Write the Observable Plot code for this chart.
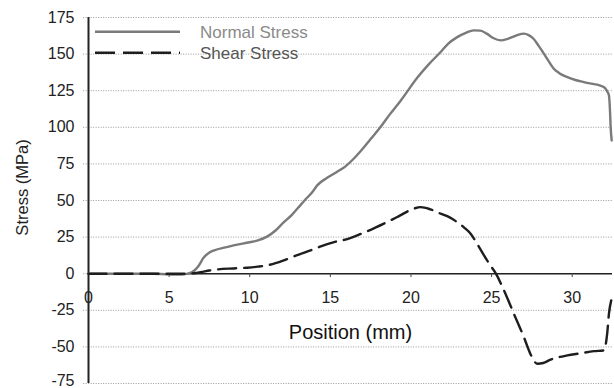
<!DOCTYPE html>
<html>
<head>
<meta charset="utf-8">
<script src="https://cdn.jsdelivr.net/npm/d3@7"></script>
<script src="https://cdn.jsdelivr.net/npm/@observablehq/plot@0.6"></script>
<style>
  html, body { margin: 0; padding: 0; background: #fff; }
  #chart { position: relative; width: 614px; height: 388px; font-family: "Liberation Sans", Arial, sans-serif; }
  #legend { position: absolute; left: 0; top: 0; pointer-events: none; }
</style>
</head>
<body>
<div id="chart"></div>
<script>
// Stress profile along the joint position
const positionTicks = [0, 5, 10, 15, 20, 25, 30];
const stressTicks = [-75, -50, -25, 0, 25, 50, 75, 100, 125, 150, 175];

const normalX = [0, 2, 4, 5, 5.8, 6.4, 6.8, 7.15, 7.5, 7.8, 8.5, 9.0, 10.0, 10.5, 11.1, 11.6, 12.1, 12.6, 13.0, 13.4, 13.9, 14.2, 14.8, 15.4, 15.9, 16.4, 16.9, 17.5, 18.1, 18.7, 19.35, 20.4, 21.1, 21.84, 22.3, 22.87, 23.4, 23.9, 24.3, 24.7, 25.1, 25.56, 25.9, 26.28, 26.6, 27.0, 27.3, 27.6, 27.9, 28.24, 28.55, 28.86, 29.2, 29.7, 30.2, 30.72, 31.1, 31.55, 31.85, 32.07, 32.2, 32.28, 32.35, 32.38, 32.45];
const normalY = [0, 0, 0, -0.5, -0.5, 1, 5, 11, 14.5, 16, 18, 19.3, 21.5, 22.7, 25.5, 29.5, 35, 40, 45, 50, 56, 60.5, 65.5, 69.5, 73, 78, 84, 92, 100, 109, 118, 134, 143, 151.4, 157, 161.6, 164.5, 166.2, 166, 164, 161, 159.4, 160, 161.6, 163, 164, 163, 160.5, 156, 150.3, 145, 140, 137, 134.3, 132.3, 130.9, 130, 129.1, 128, 126.4, 124, 121.8, 110, 101.3, 91];

const shearX = [0, 5, 6, 6.5, 6.95, 7.5, 7.98, 9.0, 9.84, 10.5, 11.08, 11.6, 12.11, 12.9, 13.77, 14.5, 15.22, 16.0, 16.67, 17.5, 18.32, 19.2, 20.16, 20.6, 21.2, 21.84, 22.4, 22.87, 23.3, 23.7, 24.1, 24.53, 24.9, 25.27, 25.77, 26.38, 27.0, 27.4, 27.6, 27.85, 28.2, 28.66, 29.7, 30.5, 31.35, 31.97, 32.1, 32.17, 32.28, 32.42];
const shearY = [0, 0, 0, 0.3, 1, 2.2, 2.9, 3.6, 4.1, 4.8, 5.7, 7.2, 9.1, 12.5, 15.9, 19, 21.6, 23.5, 26.2, 30, 34.2, 39, 44.4, 45.5, 44, 41, 38.5, 35.2, 31.5, 27.3, 20.5, 12.5, 6, 0, -11.4, -27.3, -43.3, -54.6, -59, -61.5, -61, -58.7, -55.8, -54.4, -52.9, -52.4, -47, -41, -27.3, -18.2];

const seriesNames = ["Normal Stress", "Shear Stress"];
const seriesStroke = ["#7a7a7a", "#1e1e1e"];
const seriesDash = [null, "18,8"];
const legendText = ["#8a8a8a", "#555"];

const normal = normalX.map((x, i) => ({x, y: normalY[i]}));
const shear = shearX.map((x, i) => ({x, y: shearY[i]}));

const plot = Plot.plot({
  width: 614,
  height: 388,
  marginLeft: 88,
  marginRight: 2,
  marginTop: 17,
  marginBottom: 5,
  x: {domain: [0, 32.5], axis: null},
  y: {domain: [-75, 175], axis: null},
  style: {fontFamily: "'Liberation Sans', Arial, sans-serif", fontSize: "16px", color: "#222", background: "#fff"},
  marks: [
    Plot.ruleY(stressTicks, {x1: -0.3, x2: 32.5, stroke: "#9a9a9a", strokeWidth: 1, strokeDasharray: "1,1.5"}),
    // y tick labels; the lowest one is nudged up so it stays inside the image
    Plot.axisY(stressTicks.slice(1), {tickSize: 0, tickPadding: 14, label: null, fontSize: 16, tickFormat: d => String(d)}),
    Plot.axisY(stressTicks.slice(0, 1), {tickSize: 0, tickPadding: 14, label: null, fontSize: 16, tickFormat: d => String(d), dy: -3}),
    Plot.ruleY([0], {stroke: "#222", strokeWidth: 1.6}),
    Plot.ruleX([0], {stroke: "#222", strokeWidth: 2}),
    Plot.ruleX(positionTicks.slice(1), {x: d => d, y1: 0, y2: -2.6, stroke: "#444", strokeWidth: 1}),
    Plot.text(positionTicks, {x: d => d, y: 0, dy: 24, fontSize: 16, fill: "#222"}),
    Plot.text(["Position (mm)"], {frameAnchor: "middle", dy: 132, fontSize: 20, fill: "#111"}),
    Plot.text(["Stress (MPa)"], {frameAnchor: "left", textAnchor: "middle", dx: -66, dy: -13, rotate: -90, fontSize: 16.5, fill: "#222"}),
    Plot.line(normal, {x: "x", y: "y", curve: "monotone-x", stroke: seriesStroke[0], strokeWidth: 2.4}),
    Plot.line(shear, {x: "x", y: "y", curve: "monotone-x", stroke: seriesStroke[1], strokeWidth: 2.4, strokeDasharray: seriesDash[1]})
  ]
});

const chart = document.getElementById("chart");
chart.appendChild(plot);

// Legend in the top-left corner of the plot area
const legend = d3.create("svg")
  .attr("id", "legend")
  .attr("width", 614)
  .attr("height", 80);
const rows = legend.selectAll("g").data(seriesNames).join("g")
  .attr("transform", (d, i) => `translate(0,${31.7 + i * 21})`);
rows.append("line")
  .attr("x1", 95).attr("x2", 180)
  .attr("stroke", (d, i) => seriesStroke[i])
  .attr("stroke-width", 2.4)
  .attr("stroke-dasharray", (d, i) => seriesDash[i] ? "20,8" : null);
rows.append("text")
  .attr("x", 200)
  .attr("dy", "0.35em")
  .attr("font-size", 17)
  .attr("font-family", "'Liberation Sans', Arial, sans-serif")
  .attr("fill", (d, i) => legendText[i])
  .text(d => d);
chart.appendChild(legend.node());
</script>
</body>
</html>
